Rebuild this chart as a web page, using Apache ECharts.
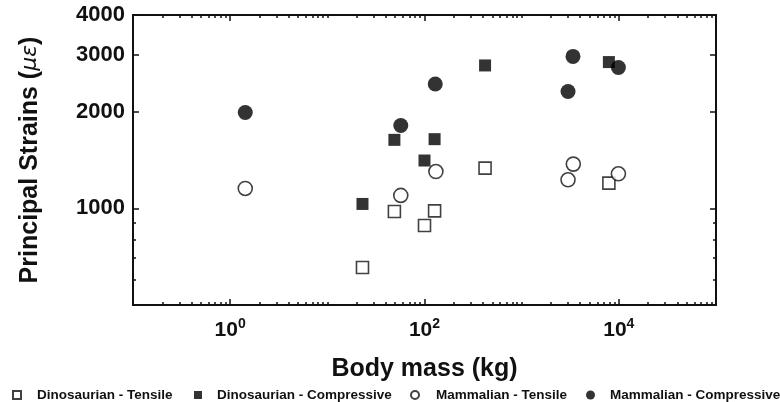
<!DOCTYPE html>
<html><head><meta charset="utf-8">
<script src="https://cdn.jsdelivr.net/npm/echarts@6/dist/echarts.min.js"></script>
<style>html,body{margin:0;padding:0;background:#fff}#c{width:780px;height:402px}</style>
</head><body><div id="c"></div>
<script>
// ---- data (body mass kg, principal strain microstrain) ----
const dinoTensileMass = [23, 49, 127, 100, 420, 7900];
const dinoTensileStrain = [654, 978, 982, 884, 1334, 1198];
const dinoCompMass = [23, 49, 127, 100, 420, 7900];
const dinoCompStrain = [1032, 1634, 1642, 1409, 2786, 2854];
const mamTensileMass = [1.43, 57, 131, 3400, 3000, 9900];
const mamTensileStrain = [1153, 1097, 1302, 1373, 1227, 1281];
const mamCompMass = [1.43, 57, 129, 3375, 3000, 9900];
const mamCompStrain = [1988, 1811, 2438, 2972, 2311, 2746];

const seriesNames = ['Dinosaurian - Tensile', 'Dinosaurian - Compressive', 'Mammalian - Tensile', 'Mammalian - Compressive'];

// ---- ticks ----
const xMajorTicks = [1, 100, 10000];
const xMinorTicks = [0.2,0.3,0.4,0.5,0.6,0.7,0.8,0.9, 2,3,4,5,6,7,8,9,10, 20,30,40,50,60,70,80,90,
  200,300,400,500,600,700,800,900,1000, 2000,3000,4000,5000,6000,7000,8000,9000,
  20000,30000,40000,50000,60000,70000,80000,90000];
const yMajorTicks = [1000, 2000, 3000, 4000];
const yMinorTicks = [600, 700, 800, 900];

const FONT = '"Liberation Sans", Arial, sans-serif';
const INK = '#111';

function zip(a, b) { return a.map((v, i) => [v, b[i]]); }

const xBase = {type: 'log', logBase: 10, min: 0.1, max: 100000, splitLine: {show: false}, axisLabel: {show: false}};
const yBase = {type: 'log', logBase: 10, min: 500, max: 4000, splitLine: {show: false}, axisLabel: {show: false}};
const lineOn = {show: true, lineStyle: {color: INK, width: 2}};
const lineOff = {show: false};
function ticks(vals, len) {
  return {show: true, inside: true, length: len, customValues: vals, lineStyle: {color: INK, width: 1.5}};
}
const legendText = {fontFamily: FONT, fontWeight: 'bold', fontSize: 13.5, color: INK};

const chart = echarts.init(document.getElementById('c'));
chart.setOption({
  backgroundColor: '#fff',
  animation: false,
  grid: {left: 133, right: 64, top: 15, bottom: 97, containLabel: false},
  xAxis: [
    Object.assign({}, xBase, {
      position: 'bottom', axisLine: lineOn, axisTick: ticks(xMajorTicks, 6),
      axisLabel: {
        show: true, customValues: xMajorTicks, margin: 12,
        formatter: function (v) { return '{b|10}{s|' + Math.round(Math.log10(v)) + '}'; },
        rich: {
          b: {fontFamily: FONT, fontWeight: 'bold', fontSize: 21, color: INK, lineHeight: 24, verticalAlign: 'bottom'},
          s: {fontFamily: FONT, fontWeight: 'bold', fontSize: 14, color: INK, lineHeight: 14, verticalAlign: 'top'}
        }
      },
      name: 'Body mass (kg)', nameLocation: 'middle', nameGap: 52,
      nameTextStyle: {fontFamily: FONT, fontWeight: 'bold', fontSize: 25, color: INK}
    }),
    Object.assign({}, xBase, {position: 'bottom', axisLine: lineOff, axisTick: ticks(xMinorTicks, 3)}),
    Object.assign({}, xBase, {position: 'top', axisLine: lineOn, axisTick: ticks(xMajorTicks, 6)}),
    Object.assign({}, xBase, {position: 'top', axisLine: lineOff, axisTick: ticks(xMinorTicks, 3)})
  ],
  yAxis: [
    Object.assign({}, yBase, {
      position: 'left', axisLine: lineOn, axisTick: ticks(yMajorTicks, 6),
      axisLabel: {show: true, customValues: yMajorTicks, margin: 8,
        formatter: function (v) { return String(Math.round(v)); },
        fontFamily: FONT, fontWeight: 'bold', fontSize: 22, color: INK},
      name: '{a|Principal Strains (}{m|\u03BC\u03B5}{a|)}', nameLocation: 'middle', nameGap: 90, nameRotate: 90,
      nameTextStyle: {
        rich: {
          a: {fontFamily: FONT, fontWeight: 'bold', fontSize: 25, color: INK},
          m: {fontFamily: '"DejaVu Sans", sans-serif', fontStyle: 'italic', fontWeight: 'normal', fontSize: 22, color: INK}
        }
      }
    }),
    Object.assign({}, yBase, {position: 'left', axisLine: lineOff, axisTick: ticks(yMinorTicks, 3)}),
    Object.assign({}, yBase, {position: 'right', axisLine: lineOn, axisTick: ticks(yMajorTicks, 6)}),
    Object.assign({}, yBase, {position: 'right', axisLine: lineOff, axisTick: ticks(yMinorTicks, 3)})
  ],
  legend: [
    {data: [seriesNames[0]], left: 12, top: 388, padding: 0, itemWidth: 8, itemHeight: 8,
      textStyle: Object.assign({padding: [0, 0, 0, 11]}, legendText)},
    {data: [seriesNames[1]], left: 194, top: 388, padding: 0, itemWidth: 8, itemHeight: 8,
      textStyle: Object.assign({padding: [0, 0, 0, 10]}, legendText)},
    {data: [seriesNames[2]], left: 410, top: 388, padding: 0, itemWidth: 8, itemHeight: 8,
      textStyle: Object.assign({padding: [0, 0, 0, 12]}, legendText)},
    {data: [seriesNames[3]], left: 586, top: 388, padding: 0, itemWidth: 9, itemHeight: 9,
      textStyle: Object.assign({padding: [0, 0, 0, 10]}, legendText)}
  ],
  series: [
    {name: seriesNames[0], type: 'scatter', xAxisIndex: 0, yAxisIndex: 0, symbol: 'rect', symbolSize: 12,
      itemStyle: {color: '#fff', borderColor: INK, borderWidth: 1.6}, data: zip(dinoTensileMass, dinoTensileStrain)},
    {name: seriesNames[1], type: 'scatter', xAxisIndex: 0, yAxisIndex: 0, symbol: 'rect', symbolSize: 12,
      itemStyle: {color: '#000', borderWidth: 0}, data: zip(dinoCompMass, dinoCompStrain)},
    {name: seriesNames[2], type: 'scatter', xAxisIndex: 0, yAxisIndex: 0, symbol: 'circle', symbolSize: 14,
      itemStyle: {color: '#fff', borderColor: INK, borderWidth: 1.6}, data: zip(mamTensileMass, mamTensileStrain)},
    {name: seriesNames[3], type: 'scatter', xAxisIndex: 0, yAxisIndex: 0, symbol: 'circle', symbolSize: 15,
      itemStyle: {color: '#000', borderWidth: 0}, data: zip(mamCompMass, mamCompStrain)}
  ]
});
</script></body></html>
